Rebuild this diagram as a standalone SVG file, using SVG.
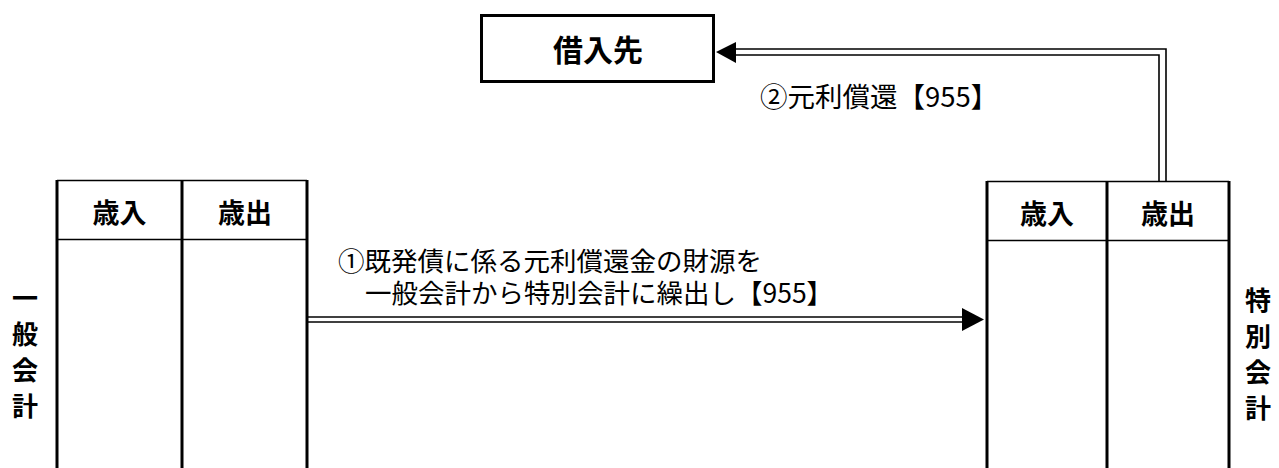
<svg xmlns="http://www.w3.org/2000/svg" width="1279" height="468" viewBox="0 0 1279 468">
<style>
.bg{fill:#fff}
.box{fill:#fff;stroke:#000;stroke-width:3}
.thick{stroke:#000;stroke-width:3;fill:none}
.thin{stroke:#000;stroke-width:1.5;fill:none}
.dl{stroke:#000;stroke-width:1.6;fill:none}
.lbl{font-family:"Noto Sans CJK JP","Liberation Sans",sans-serif;font-size:27px;font-weight:bold;fill:#000;text-anchor:middle;dominant-baseline:central}
.vert{font-family:"Noto Sans CJK JP","Liberation Sans",sans-serif;font-size:26px;font-weight:bold;fill:#000;writing-mode:vertical-rl;letter-spacing:10px}
.txt{font-family:"Noto Sans CJK JP","Liberation Sans",sans-serif;font-size:26.5px;fill:#000}
</style>
<rect class="bg" x="0" y="0" width="1279" height="468"/>
<g id="node-lender">
<rect class="box" x="481.5" y="15.5" width="232" height="66"/>
<text class="lbl" x="598" y="48" style="font-size:30px">借入先</text>
</g>
<g id="node-general">
<line class="thin" x1="57" y1="180.5" x2="307" y2="180.5"/>
<line class="thin" x1="57" y1="239.5" x2="307" y2="239.5"/>
<line class="thick" x1="57" y1="180" x2="57" y2="468"/>
<line class="thick" x1="182" y1="180" x2="182" y2="468"/>
<line class="thick" x1="307" y1="180" x2="307" y2="468"/>
<text class="lbl" x="119.5" y="211">歳入</text>
<text class="lbl" x="245" y="211">歳出</text>
<text class="vert" x="25" y="285">一般会計</text>
</g>
<g id="node-special">
<line class="thin" x1="987" y1="181.5" x2="1229" y2="181.5"/>
<line class="thin" x1="987" y1="240.5" x2="1229" y2="240.5"/>
<line class="thick" x1="987" y1="181" x2="987" y2="468"/>
<line class="thick" x1="1107" y1="181" x2="1107" y2="468"/>
<line class="thick" x1="1229" y1="181" x2="1229" y2="468"/>
<text class="lbl" x="1047" y="212">歳入</text>
<text class="lbl" x="1168" y="212">歳出</text>
<text class="vert" x="1258" y="287">特別会計</text>
</g>
<g id="connectors">
<polyline class="dl" points="1166,181 1166,49 735,49"/>
<polyline class="dl" points="1159,181 1159,55 735,55"/>
<polygon points="716,52 736,42 736,63" fill="#000"/>
<line class="dl" x1="308" y1="317" x2="963" y2="317"/>
<line class="dl" x1="308" y1="322" x2="963" y2="322"/>
<polygon points="984,319.5 962,308 962,331" fill="#000"/>
<text class="txt" x="760" y="107" style="font-size:27.5px">②元利償還【955】</text>
<text class="txt"><tspan x="338" y="271">①既発債に係る元利償還金の財源を</tspan><tspan x="365" y="303">一般会計から特別会計に繰出し【955】</tspan></text>
</g>
</svg>
